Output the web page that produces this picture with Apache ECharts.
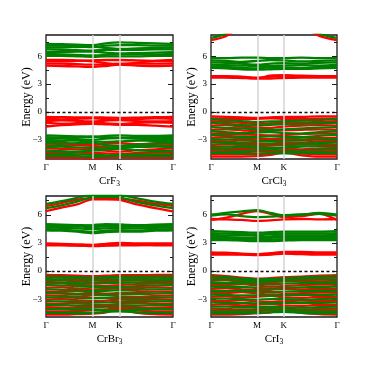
<!DOCTYPE html>
<html>
<head>
<meta charset="utf-8">
<script src="https://cdn.jsdelivr.net/npm/echarts@6/dist/echarts.min.js"></script>
<style>
  html, body { margin: 0; padding: 0; background: #fff; }
  #chart { width: 374px; height: 374px; }
</style>
</head>
<body>
<div id="chart"></div>
<script>
// k-path samples (Γ - M - K - Γ), energies in eV at each sample
const kPath = [0, 0.192, 0.385, 0.577, 0.744, 0.910, 1.132, 1.355, 1.577];
const kTicks = [0, 0.577, 0.910, 1.577];
const kLabels = ['Γ', 'M', 'K', 'Γ'];
const yMajor = [-3, 0, 3, 6];
const yMinor = [-4.5, -1.5, 1.5, 4.5, 7.5];

// CrF3
const crf3Green = [
  [7.35, 7.3, 7.25, 7.2, 7.4, 7.5, 7.45, 7.4, 7.35],
  [7.15, 7.15, 7.1, 7.0, 7.15, 7.2, 7.2, 7.15, 7.15],
  [6.95, 6.95, 7.0, 7.05, 6.9, 6.8, 6.85, 6.9, 6.95],
  [6.75, 6.7, 6.65, 6.6, 6.7, 6.7, 6.7, 6.75, 6.75],
  [6.45, 6.45, 6.5, 6.5, 6.4, 6.3, 6.35, 6.4, 6.45],
  [6.25, 6.2, 6.15, 6.1, 6.15, 6.2, 6.2, 6.2, 6.25],
  [6.05, 6.05, 6.0, 5.95, 6.0, 6.0, 6.0, 6.05, 6.05],
  [-2.55, -2.6, -2.65, -2.7, -2.6, -2.55, -2.6, -2.6, -2.55],
  [-2.75, -2.8, -2.75, -2.65, -2.75, -2.8, -2.75, -2.7, -2.75],
  [-2.95, -2.9, -2.95, -3.0, -2.9, -2.85, -2.9, -2.95, -2.95],
  [-3.15, -3.15, -3.1, -3.2, -3.25, -3.2, -3.1, -3.15, -3.15],
  [-3.4, -3.45, -3.4, -3.35, -3.6, -3.7, -3.55, -3.45, -3.4],
  [-3.8, -3.75, -3.85, -3.9, -3.95, -3.85, -3.8, -3.75, -3.8],
  [-4.2, -4.25, -4.3, -4.2, -4.1, -4.0, -4.15, -4.25, -4.2],
  [-4.6, -4.55, -4.6, -4.65, -4.7, -4.65, -4.6, -4.6, -4.6],
  [-4.8, -4.75, -4.8, -4.85, -4.8, -4.75, -4.8, -4.8, -4.8]
];
const crf3Red = [
  [5.6, 5.6, 5.55, 5.45, 5.25, 5.1, 5.3, 5.5, 5.6],
  [5.45, 5.45, 5.5, 5.55, 5.6, 5.6, 5.55, 5.5, 5.45],
  [5.2, 5.2, 5.15, 5.1, 5.15, 5.2, 5.2, 5.2, 5.2],
  [5.0, 4.95, 4.9, 4.85, 4.95, 5.1, 5.0, 4.95, 5.0],
  [-0.55, -0.58, -0.6, -0.6, -0.62, -0.65, -0.62, -0.58, -0.55],
  [-0.75, -0.82, -0.75, -0.7, -0.78, -0.85, -0.78, -0.72, -0.75],
  [-1.0, -0.92, -0.98, -1.05, -0.95, -0.9, -1.0, -1.05, -1.0],
  [-1.2, -1.28, -1.22, -1.15, -1.25, -1.3, -1.2, -1.15, -1.2],
  [-1.6, -1.45, -1.35, -1.3, -1.35, -1.4, -1.4, -1.5, -1.6],
  [-3.3, -3.35, -3.5, -3.55, -3.45, -3.4, -3.5, -3.4, -3.3],
  [-3.6, -3.65, -3.6, -3.7, -3.8, -3.9, -3.75, -3.65, -3.6],
  [-3.95, -4.0, -4.05, -4.1, -4.2, -4.3, -4.15, -4.05, -3.95],
  [-4.4, -4.35, -4.4, -4.45, -4.5, -4.55, -4.45, -4.4, -4.4],
  [-4.95, -4.95, -4.98, -5.0, -4.95, -4.9, -4.95, -4.95, -4.95]
];

// CrCl3
const crcl3Green = [
  [8.0, 8.45, 9.5, 10, 10, 10, 9.5, 8.45, 8.0],
  [5.8, 5.8, 5.85, 5.85, 5.8, 5.8, 5.85, 5.8, 5.8],
  [5.55, 5.5, 5.4, 5.5, 5.6, 5.55, 5.45, 5.5, 5.55],
  [5.35, 5.3, 5.2, 5.1, 5.2, 5.25, 5.2, 5.3, 5.35],
  [5.1, 5.05, 5.0, 4.95, 4.95, 5.0, 5.05, 5.0, 5.1],
  [4.9, 4.85, 4.75, 4.7, 4.8, 4.8, 4.75, 4.85, 4.9],
  [4.75, 4.7, 4.6, 4.55, 4.6, 4.65, 4.65, 4.7, 4.75],
  [-0.8, -0.9, -1.0, -1.1, -1.05, -1.0, -0.95, -0.9, -0.8],
  [-1.2, -1.3, -1.45, -1.5, -1.4, -1.35, -1.3, -1.25, -1.2],
  [-1.65, -1.75, -1.8, -1.9, -1.95, -1.9, -1.8, -1.7, -1.65],
  [-2.1, -2.2, -2.3, -2.25, -2.2, -2.3, -2.35, -2.2, -2.1],
  [-2.5, -2.6, -2.7, -2.7, -2.65, -2.7, -2.75, -2.6, -2.5],
  [-2.95, -3.0, -3.05, -3.1, -3.15, -3.1, -3.05, -3.0, -2.95],
  [-3.3, -3.35, -3.45, -3.5, -3.45, -3.5, -3.45, -3.4, -3.3],
  [-3.7, -3.75, -3.8, -3.85, -3.9, -3.85, -3.75, -3.7, -3.7],
  [-4.05, -4.1, -4.2, -4.15, -4.1, -4.2, -4.2, -4.1, -4.05],
  [-4.45, -4.45, -4.5, -4.55, -4.5, -4.5, -4.5, -4.45, -4.45]
];
const crcl3Red = [
  [7.75, 8.2, 9.3, 10, 10, 10, 9.3, 8.2, 7.75],
  [3.85, 3.85, 3.8, 3.7, 3.8, 3.85, 3.85, 3.85, 3.85],
  [3.7, 3.7, 3.65, 3.6, 3.6, 3.65, 3.7, 3.7, 3.7],
  [3.8, 3.75, 3.7, 3.65, 3.9, 3.95, 3.9, 3.85, 3.8],
  [-0.5, -0.55, -0.6, -0.65, -0.6, -0.55, -0.55, -0.5, -0.5],
  [-0.7, -0.75, -0.8, -0.75, -0.7, -0.75, -0.8, -0.75, -0.7],
  [-1.0, -1.1, -1.2, -1.3, -1.25, -1.2, -1.15, -1.1, -1.0],
  [-1.5, -1.45, -1.6, -1.7, -1.75, -1.6, -1.5, -1.45, -1.5],
  [-1.95, -1.9, -2.0, -2.1, -2.05, -2.0, -1.95, -1.9, -1.95],
  [-2.35, -2.4, -2.45, -2.5, -2.55, -2.5, -2.4, -2.35, -2.35],
  [-2.8, -2.75, -2.85, -2.9, -2.95, -2.9, -2.8, -2.85, -2.8],
  [-3.15, -3.2, -3.3, -3.25, -3.2, -3.3, -3.3, -3.2, -3.15],
  [-3.55, -3.5, -3.6, -3.7, -3.65, -3.6, -3.55, -3.5, -3.55],
  [-3.9, -3.95, -4.0, -3.95, -3.9, -4.0, -4.05, -3.95, -3.9],
  [-4.25, -4.3, -4.35, -4.3, -4.3, -4.35, -4.35, -4.3, -4.25],
  [-4.6, -4.6, -4.6, -4.55, -4.45, -4.35, -4.5, -4.6, -4.6],
  [-4.85, -4.85, -4.85, -4.8, -4.65, -4.4, -4.7, -4.85, -4.85]
];

// CrBr3
const crbr3Green = [
  [7.15, 7.45, 7.8, 8.1, 8.1, 8.1, 7.75, 7.4, 7.15],
  [6.7, 7.0, 7.4, 7.85, 7.9, 7.85, 7.35, 7.0, 6.7],
  [5.0, 4.95, 4.9, 4.85, 4.9, 4.95, 4.9, 4.95, 5.0],
  [4.85, 4.8, 4.75, 4.7, 4.75, 4.8, 4.75, 4.8, 4.85],
  [4.65, 4.6, 4.55, 4.5, 4.55, 4.6, 4.55, 4.6, 4.65],
  [4.45, 4.4, 4.3, 4.2, 4.3, 4.35, 4.3, 4.4, 4.45],
  [4.35, 4.3, 4.2, 4.05, 4.15, 4.2, 4.2, 4.3, 4.35],
  [4.6, 4.7, 4.8, 4.9, 5.0, 4.95, 4.8, 4.7, 4.6],
  [-0.55, -0.6, -0.65, -0.7, -0.65, -0.6, -0.6, -0.58, -0.55],
  [-0.85, -0.9, -0.95, -1.0, -0.95, -0.9, -0.9, -0.88, -0.85],
  [-1.15, -1.2, -1.3, -1.35, -1.3, -1.25, -1.2, -1.18, -1.15],
  [-1.5, -1.55, -1.6, -1.7, -1.75, -1.7, -1.6, -1.55, -1.5],
  [-1.95, -2.0, -2.05, -2.1, -2.1, -2.05, -2.0, -1.95, -1.95],
  [-2.35, -2.4, -2.45, -2.45, -2.5, -2.45, -2.45, -2.4, -2.35],
  [-2.8, -2.8, -2.85, -2.9, -2.85, -2.85, -2.9, -2.85, -2.8],
  [-3.2, -3.25, -3.3, -3.35, -3.35, -3.3, -3.3, -3.25, -3.2],
  [-3.6, -3.65, -3.7, -3.7, -3.75, -3.7, -3.7, -3.65, -3.6],
  [-4.05, -4.05, -4.1, -4.1, -4.15, -4.2, -4.1, -4.05, -4.05],
  [-4.45, -4.45, -4.5, -4.45, -4.35, -4.3, -4.4, -4.45, -4.45]
];
const crbr3Red = [
  [6.95, 7.25, 7.6, 7.75, 7.7, 7.75, 7.5, 7.2, 6.95],
  [6.4, 6.75, 7.1, 7.65, 7.65, 7.6, 7.1, 6.7, 6.35],
  [2.95, 2.9, 2.85, 2.8, 2.9, 3.0, 2.95, 2.95, 2.95],
  [2.75, 2.75, 2.7, 2.7, 2.75, 2.85, 2.8, 2.75, 2.75],
  [2.85, 2.8, 2.75, 2.65, 2.7, 2.75, 2.75, 2.8, 2.85],
  [-0.4, -0.45, -0.5, -0.55, -0.5, -0.45, -0.45, -0.42, -0.4],
  [-0.65, -0.7, -0.8, -0.85, -0.75, -0.7, -0.75, -0.7, -0.65],
  [-0.95, -1.0, -1.1, -1.2, -1.15, -1.05, -1.0, -0.98, -0.95],
  [-1.35, -1.3, -1.45, -1.55, -1.6, -1.5, -1.4, -1.35, -1.35],
  [-1.8, -1.75, -1.85, -1.95, -1.9, -1.85, -1.8, -1.75, -1.8],
  [-2.2, -2.25, -2.15, -2.3, -2.4, -2.35, -2.25, -2.2, -2.2],
  [-2.6, -2.65, -2.7, -2.6, -2.55, -2.7, -2.75, -2.65, -2.6],
  [-3.05, -3.0, -3.1, -3.2, -3.15, -3.05, -3.1, -3.05, -3.05],
  [-3.45, -3.5, -3.45, -3.55, -3.6, -3.5, -3.45, -3.5, -3.45],
  [-3.85, -3.9, -3.95, -3.9, -3.8, -3.95, -3.95, -3.9, -3.85],
  [-4.3, -4.3, -4.25, -4.2, -4.1, -3.95, -4.2, -4.3, -4.3],
  [-4.65, -4.65, -4.6, -4.55, -4.4, -4.05, -4.45, -4.6, -4.65]
];

// CrI3
const cri3Green = [
  [6.0, 6.2, 6.35, 6.5, 6.2, 5.95, 6.0, 6.2, 6.0],
  [5.9, 6.05, 5.85, 5.75, 5.8, 5.9, 6.05, 6.1, 5.9],
  [4.25, 4.2, 4.15, 4.1, 4.15, 4.2, 4.2, 4.2, 4.25],
  [4.05, 4.0, 3.95, 3.9, 3.95, 4.0, 4.0, 4.0, 4.05],
  [3.85, 3.8, 3.8, 3.75, 3.7, 3.8, 3.8, 3.8, 3.85],
  [3.65, 3.6, 3.55, 3.5, 3.55, 3.6, 3.6, 3.6, 3.65],
  [3.45, 3.45, 3.4, 3.35, 3.35, 3.4, 3.4, 3.45, 3.45],
  [3.3, 3.3, 3.25, 3.2, 3.2, 3.25, 3.3, 3.3, 3.3],
  [-0.55, -0.65, -0.8, -0.9, -0.85, -0.75, -0.7, -0.6, -0.55],
  [-0.9, -0.95, -1.0, -1.1, -1.05, -1.0, -0.95, -0.92, -0.9],
  [-1.25, -1.3, -1.3, -1.4, -1.4, -1.35, -1.3, -1.28, -1.25],
  [-1.65, -1.7, -1.7, -1.8, -1.85, -1.8, -1.75, -1.7, -1.65],
  [-2.1, -2.15, -2.1, -2.2, -2.25, -2.2, -2.15, -2.1, -2.1],
  [-2.5, -2.55, -2.6, -2.6, -2.65, -2.6, -2.55, -2.55, -2.5],
  [-2.95, -2.95, -3.0, -3.05, -3.0, -3.0, -3.05, -3.0, -2.95],
  [-3.35, -3.4, -3.4, -3.45, -3.45, -3.4, -3.4, -3.4, -3.35],
  [-3.8, -3.8, -3.85, -3.85, -3.8, -3.85, -3.9, -3.85, -3.8],
  [-4.2, -4.2, -4.2, -4.15, -4.1, -4.15, -4.2, -4.2, -4.2],
  [-4.5, -4.5, -4.5, -4.45, -4.4, -4.35, -4.45, -4.5, -4.5]
];
const cri3Red = [
  [5.45, 5.7, 6.1, 6.4, 6.1, 5.75, 5.85, 6.1, 5.45],
  [5.55, 5.5, 5.45, 5.35, 5.4, 5.5, 5.55, 5.5, 5.55],
  [2.0, 1.95, 1.85, 1.8, 1.9, 2.05, 2.05, 2.0, 2.0],
  [1.75, 1.75, 1.75, 1.7, 1.75, 1.85, 1.8, 1.75, 1.75],
  [1.85, 1.85, 1.8, 1.75, 1.8, 1.9, 1.9, 1.85, 1.85],
  [-0.45, -0.55, -0.7, -0.8, -0.75, -0.65, -0.6, -0.5, -0.45],
  [-0.7, -0.75, -0.85, -0.95, -0.9, -0.85, -0.8, -0.75, -0.7],
  [-1.05, -1.0, -1.15, -1.25, -1.2, -1.1, -1.05, -1.1, -1.05],
  [-1.45, -1.5, -1.4, -1.55, -1.65, -1.6, -1.5, -1.45, -1.45],
  [-1.9, -1.85, -1.95, -2.05, -2.0, -1.9, -1.95, -1.9, -1.9],
  [-2.3, -2.35, -2.25, -2.4, -2.5, -2.45, -2.35, -2.3, -2.3],
  [-2.75, -2.7, -2.8, -2.75, -2.65, -2.8, -2.85, -2.75, -2.75],
  [-3.15, -3.2, -3.1, -3.25, -3.3, -3.2, -3.15, -3.2, -3.15],
  [-3.6, -3.55, -3.65, -3.6, -3.5, -3.65, -3.7, -3.6, -3.6],
  [-4.0, -4.05, -4.1, -4.05, -3.95, -4.0, -4.1, -4.05, -4.0],
  [-4.35, -4.35, -4.3, -4.25, -4.2, -4.05, -4.25, -4.35, -4.35],
  [-4.65, -4.65, -4.6, -4.5, -4.4, -4.2, -4.45, -4.6, -4.65]
];

const panels = [
  { formula: 'CrF', green: crf3Green, red: crf3Red, yMin: -5.1, yMax: 8.3, left: 46, top: 35, width: 127, height: 124 },
  { formula: 'CrCl', green: crcl3Green, red: crcl3Red, yMin: -5.1, yMax: 8.3, left: 211, top: 35, width: 126, height: 124 },
  { formula: 'CrBr', green: crbr3Green, red: crbr3Red, yMin: -4.9, yMax: 8.0, left: 46, top: 196, width: 127, height: 121 },
  { formula: 'CrI', green: cri3Green, red: cri3Red, yMin: -4.9, yMax: 8.0, left: 211, top: 196, width: 126, height: 121 }
];

const serif = 'Liberation Serif';
const fmtE = v => (v < 0 ? '\u2212' + Math.abs(v) : String(v));

const grids = [], xAxes = [], yAxes = [], series = [];

panels.forEach((p, i) => {
  grids.push({ left: p.left, top: p.top, width: p.width, height: p.height,
    show: true, borderColor: '#1a1a1a', borderWidth: 1.3, backgroundColor: 'transparent' });

  xAxes.push({
    type: 'value', gridIndex: i, min: 0, max: kTicks[3],
    axisLine: { show: false }, axisTick: { show: false }, splitLine: { show: false },
    axisLabel: {
      customValues: kTicks, margin: 4, fontFamily: serif, fontSize: 9, color: '#000',
      formatter: v => kLabels[kTicks.indexOf(v)]
    },
    name: '{a|' + p.formula + '}{b|3}', nameLocation: 'middle', nameGap: 16,
    nameTextStyle: { rich: {
      a: { fontFamily: serif, fontSize: 11, color: '#000', lineHeight: 13 },
      b: { fontFamily: serif, fontSize: 7.5, color: '#000', verticalAlign: 'bottom', lineHeight: 9 }
    } }
  });

  const tickAxis = (side, values, len, withLabels) => ({
    type: 'value', gridIndex: i, min: p.yMin, max: p.yMax, position: side,
    axisLine: { show: false }, splitLine: { show: false },
    axisTick: { show: true, inside: true, length: len, customValues: values,
      lineStyle: { color: '#1a1a1a', width: 1 } },
    axisLabel: withLabels ? { customValues: yMajor, formatter: fmtE, margin: 4,
      fontFamily: serif, fontSize: 9, color: '#000' } : { show: false },
    name: withLabels ? 'Energy (eV)' : '', nameLocation: 'middle', nameGap: 13,
    nameMoveOverlap: false,
    nameTextStyle: { fontFamily: serif, fontSize: 12, color: '#000' }
  });
  yAxes.push(tickAxis('left', yMajor, 5, true));
  yAxes.push(tickAxis('left', yMinor, 3, false));
  yAxes.push(tickAxis('right', yMajor, 5, false));
  yAxes.push(tickAxis('right', yMinor, 3, false));

  const addBand = (b, color) => series.push({
    type: 'line', xAxisIndex: i, yAxisIndex: 4 * i,
    data: kPath.map((k, j) => [k, b[j]]),
    smooth: 0.3, showSymbol: false, silent: true, animation: false,
    lineStyle: { color: color, width: 2.3 }
  });
  // interleave spin channels so neither colour hides the other
  const n = Math.max(p.red.length, p.green.length);
  for (let j = 0; j < n; j++) {
    if (p.red[j]) addBand(p.red[j], '#ff0000');
    if (p.green[j]) addBand(p.green[j], '#008000');
  }

  series.push({
    type: 'line', xAxisIndex: i, yAxisIndex: 4 * i, data: [], z: 10, silent: true, animation: false,
    markLine: {
      silent: true, symbol: 'none', animation: false, label: { show: false },
      data: [
        { xAxis: kTicks[1], lineStyle: { color: '#d4d4d4', width: 1.5, type: 'solid' } },
        { xAxis: kTicks[2], lineStyle: { color: '#d4d4d4', width: 1.5, type: 'solid' } },
        { yAxis: 0, lineStyle: { color: '#111', width: 1.3, type: [3, 2.5] } }
      ]
    }
  });
});

const chart = echarts.init(document.getElementById('chart'));
chart.setOption({
  backgroundColor: '#fff',
  animation: false,
  grid: grids,
  xAxis: xAxes,
  yAxis: yAxes,
  series: series
});
</script>
</body>
</html>
